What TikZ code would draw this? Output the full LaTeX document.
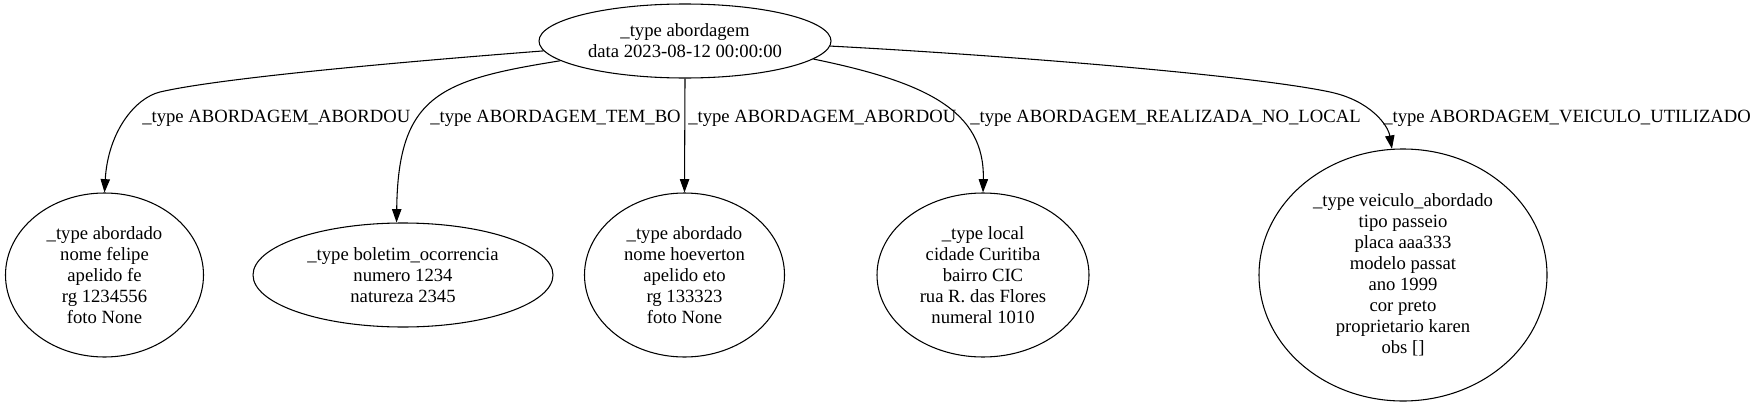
\documentclass[tikz,border=0pt]{standalone}
\usepackage{fontspec}
\setmainfont{Liberation Serif}
\usepackage{tikz}
\usetikzlibrary{shapes.geometric, arrows.meta}

\begin{document}
\begin{tikzpicture}[
  x=0.75pt, y=-0.75pt,
  font=\fontsize{14}{15.75}\selectfont,
  ent/.style={ellipse, draw, line width=0.8pt, inner sep=0pt, align=center},
  rel/.style={-{Triangle[length=10pt, width=7pt]}, line width=0.8pt},
  lbl/.style={anchor=west, inner sep=0pt},
]
\useasboundingbox (0,0) rectangle (1752,407);

% abordagem and what hangs from it
\node[ent, minimum width=219pt, minimum height=55.5pt] (abord) at (685,41)
  {\_type abordagem\\data 2023-08-12 00:00:00};
\node[ent, minimum width=148.5pt, minimum height=123pt] (pessoa1) at (104.5,275)
  {\_type abordado\\nome felipe\\apelido fe\\rg 1234556\\foto None};
\node[ent, minimum width=225pt, minimum height=78pt] (bo) at (403,275)
  {\_type boletim\_ocorrencia\\numero 1234\\natureza 2345};
\node[ent, minimum width=150pt, minimum height=123pt] (pessoa2) at (684.5,275)
  {\_type abordado\\nome hoeverton\\apelido eto\\rg 133323\\foto None};
\node[ent, minimum width=159pt, minimum height=123pt] (local) at (983,275)
  {\_type local\\cidade Curitiba\\bairro CIC\\rua R. das Flores\\numeral 1010};
\node[ent, minimum width=216pt, minimum height=189pt] (veiculo) at (1403,275)
  {\_type veiculo\_abordado\\tipo passeio\\placa aaa333\\modelo passat\\ano 1999\\cor preto\\proprietario karen\\obs []};

\draw[rel] (abord.184) .. controls (400,62) and (220,78) .. (160,92)
  .. controls (135,98) and (108,132) .. (pessoa1.north);
\draw[rel] (abord.189) .. controls (440,80) and (398,95) .. (bo.97);
\draw[rel] (abord.south) -- (pessoa2.north);
\draw[rel] (abord.352) .. controls (925,82) and (985,110) .. (local.north);
\draw[rel] (abord.358) .. controls (1000,55) and (1250,75) .. (1330,92)
  .. controls (1370,100.5) and (1388,125) .. (veiculo.95);

\node[lbl] (l1) at (142,118) {\_type ABORDAGEM\_ABORDOU};
\node[lbl] (l2) at (430,118) {\_type ABORDAGEM\_TEM\_BO};
\node[lbl] (l3) at (688,118) {\_type ABORDAGEM\_ABORDOU};
\node[lbl] (l4) at (970,118) {\_type ABORDAGEM\_REALIZADA\_NO\_LOCAL};
\node[lbl] (l5) at (1383,118) {\_type ABORDAGEM\_VEICULO\_UTILIZADO};
\end{tikzpicture}
\end{document}
